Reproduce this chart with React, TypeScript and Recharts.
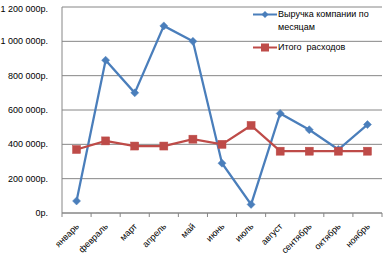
import React from 'react';
import { LineChart, Line, XAxis, YAxis, CartesianGrid } from 'recharts';

const months = ['январь', 'февраль', 'март', 'апрель', 'май', 'июнь', 'июль', 'август', 'сентябрь', 'октябрь', 'ноябрь'];
const revenue = [70000, 890000, 700000, 1090000, 1000000, 290000, 50000, 580000, 485000, 370000, 515000];
const expenses = [370000, 420000, 390000, 390000, 430000, 400000, 510000, 360000, 360000, 360000, 360000];
const yTicks = [0, 200000, 400000, 600000, 800000, 1000000, 1200000];

const BLUE = '#4a7ebb';
const RED = '#be4b48';
const GRID = '#868686';
const FONT = 'Arial, "Liberation Sans", sans-serif';

const chartData = months.map((m, i) => ({ month: m, revenue: revenue[i], expenses: expenses[i] }));

const fmt = (v: number) => String(v).replace(/\B(?=(\d{3})+(?!\d))/g, ' ') + 'р.';

const BAND = 320 / 11;

const Diamond = ({ cx, cy }: any) => {
  if (cx == null || cy == null) return null;
  const r = 4;
  return <path d={`M${cx},${cy - r} L${cx + r},${cy} L${cx},${cy + r} L${cx - r},${cy} Z`} fill={BLUE} stroke={BLUE} strokeWidth={0.5} />;
};

const Square = ({ cx, cy }: any) => {
  if (cx == null || cy == null) return null;
  return <rect x={cx - 4} y={cy - 4} width={8} height={8} fill={RED} stroke={RED} strokeWidth={0.5} />;
};

const MonthTick = ({ x, y, payload, index }: any) => (
  <g>
    <line x1={x - BAND / 2} y1={y - 8} x2={x - BAND / 2} y2={y - 4} stroke={GRID} />
    {index === months.length - 1 && <line x1={x + BAND / 2} y1={y - 8} x2={x + BAND / 2} y2={y - 4} stroke={GRID} />}
    <text x={x + 3} y={y + 6} textAnchor="end" transform={`rotate(-45 ${x + 3} ${y + 6})`} fontSize={9} fill="#000" fontFamily={FONT}>
      {payload.value}
    </text>
  </g>
);

const MoneyTick = ({ x, y, payload }: any) => (
  <text x={x} y={y} dy={3} textAnchor="end" fontSize={9} fill="#000" fontFamily={FONT}>
    {fmt(payload.value)}
  </text>
);

const ChartLegend = () => (
  <div style={{ position: 'absolute', left: 253, top: 8, width: 130, fontFamily: FONT, fontSize: 9, color: '#000', lineHeight: '13px' }}>
    <div style={{ display: 'flex', alignItems: 'flex-start' }}>
      <svg width={24} height={13} style={{ flexShrink: 0 }}>
        <line x1={0} y1={6.5} x2={24} y2={6.5} stroke={BLUE} strokeWidth={2} />
        <path d="M12,3 L15.5,6.5 L12,10 L8.5,6.5 Z" fill={BLUE} />
      </svg>
      <span style={{ marginLeft: 1 }}>Выручка компании по<br />месяцам</span>
    </div>
    <div style={{ display: 'flex', alignItems: 'flex-start', marginTop: 7 }}>
      <svg width={24} height={13} style={{ flexShrink: 0 }}>
        <line x1={0} y1={6.5} x2={24} y2={6.5} stroke={RED} strokeWidth={2} />
        <rect x={8} y={2.5} width={8} height={8} fill={RED} />
      </svg>
      <span style={{ marginLeft: 1, whiteSpace: 'pre' }}>Итого  расходов</span>
    </div>
  </div>
);

export default function App() {
  return (
    <div style={{ position: 'absolute', left: 0, top: 0, width: 387, height: 254, background: '#fff' }}>
      <LineChart width={387} height={254} data={chartData} margin={{ top: 7, right: 5, bottom: 0, left: 0 }}>
        <CartesianGrid horizontal vertical={false} stroke={GRID} />
        <XAxis
          dataKey="month"
          height={41}
          stroke={GRID}
          tickLine={false}
          interval={0}
          padding={{ left: BAND / 2, right: BAND / 2 }}
          tick={<MonthTick />}
        />
        <YAxis
          width={62}
          domain={[0, 1200000]}
          ticks={yTicks}
          stroke={GRID}
          tickLine={false}
          tickMargin={8}
          tick={<MoneyTick />}
        />
        <Line type="linear" dataKey="revenue" stroke={BLUE} strokeWidth={2.25} dot={<Diamond />} isAnimationActive={false} />
        <Line type="linear" dataKey="expenses" stroke={RED} strokeWidth={2.25} dot={<Square />} isAnimationActive={false} />
      </LineChart>
      <ChartLegend />
    </div>
  );
}
